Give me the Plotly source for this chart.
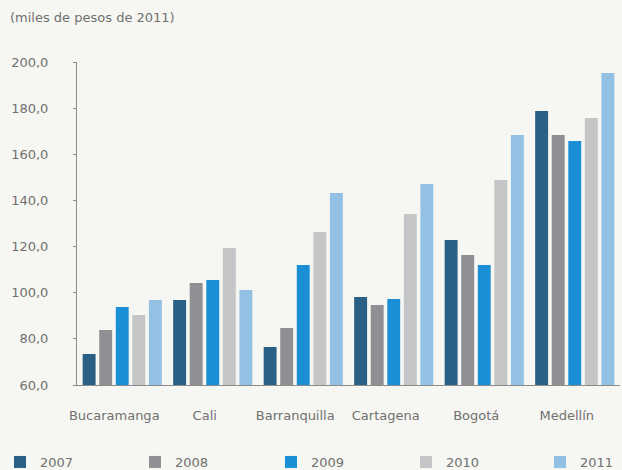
import plotly.graph_objects as go

cities = ["Bucaramanga", "Cali", "Barranquilla", "Cartagena", "Bogotá", "Medellín"]
years = ["2007", "2008", "2009", "2010", "2011"]
v2007 = [73.4, 96.8, 76.5, 98.1, 122.9, 178.8]
v2008 = [83.8, 104.2, 84.7, 94.7, 116.4, 168.4]
v2009 = [93.8, 105.5, 112.0, 97.3, 112.0, 165.8]
v2010 = [90.3, 119.4, 126.3, 134.1, 148.9, 175.7]
v2011 = [96.8, 101.2, 143.2, 147.1, 168.4, 195.2]
series = [v2007, v2008, v2009, v2010, v2011]
colors = ["#2A5F86", "#8F8F94", "#1A8FD6", "#C4C5C7", "#93C1E3"]
yticks = [60, 80, 100, 120, 140, 160, 180, 200]
yticktext = ["60,0", "80,0", "100,0", "120,0", "140,0", "160,0", "180,0", "200,0"]

W, H = 622, 470
ML, MR, MT, MB = 77, 2, 62, 85
PW, PH = W - ML - MR, H - MT - MB
legend_px = [0, 135, 271, 406, 540]
legend_names = ["legend", "legend2", "legend3", "legend4", "legend5"]

fig = go.Figure()
for yr, vals, col, lg in zip(years, series, colors, legend_names):
    fig.add_trace(go.Bar(x=cities, y=vals, name=yr, legend=lg,
                         marker=dict(color=col, line=dict(width=0))))

bg = "#F6F7F2"
txt = "#707070"
layout_legends = {}
for lg, px in zip(legend_names, legend_px):
    layout_legends[lg] = dict(x=px / W, xref="container", xanchor="left",
                              y=1 - 462 / H, yref="container", yanchor="middle",
                              orientation="h", itemwidth=30,
                              font=dict(size=13, color=txt),
                              bgcolor="rgba(0,0,0,0)")

fig.update_layout(
    width=W, height=H,
    paper_bgcolor=bg, plot_bgcolor=bg,
    margin=dict(l=ML, r=MR, t=MT, b=MB, autoexpand=False),
    barmode="group", bargap=0.085, bargroupgap=0.22,
    font=dict(family="DejaVu Sans, Liberation Sans, sans-serif", size=13, color=txt),
    showlegend=True,
    annotations=[dict(text="(miles de pesos de 2011)", xref="paper", yref="paper",
                      x=(8 - ML) / PW, y=(H - MB - 18) / PH, xanchor="left", yanchor="middle",
                      showarrow=False, font=dict(size=13, color=txt))],
    **layout_legends,
)
fig.update_yaxes(range=[60, 200], tickvals=yticks, ticktext=yticktext,
                 showgrid=False, zeroline=False, showline=True, linecolor="#8A8A8A",
                 linewidth=1, ticks="outside", ticklen=3, tickcolor="#8A8A8A",
                 ticklabelstandoff=22)
fig.update_xaxes(showgrid=False, showline=True, linecolor="#8A8A8A", linewidth=1,
                 ticks="", ticklabelstandoff=18, ticklabelshift=-8, range=[-0.5, 5.5])
fig.write_html("out.html", config={"displayModeBar": False},
               post_script="document.body.style.margin='0';")
